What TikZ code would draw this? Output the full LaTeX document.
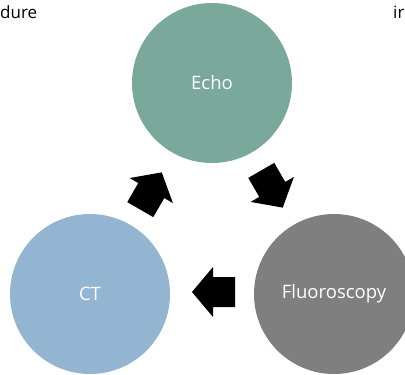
\documentclass[tikz,border=0pt]{standalone}
\usepackage{fontspec}
\setmainfont{Open Sans}
\definecolor{echoc}{RGB}{122,168,154}
\definecolor{ctc}{RGB}{148,181,210}
\definecolor{fluc}{RGB}{127,127,127}
\begin{document}
\begin{tikzpicture}[x=1pt,y=-1pt,
  stage/.style={circle,minimum size=160pt,inner sep=0pt,draw=none,text=white,font=\fontsize{18.5}{22}\selectfont},
  cyclearrow/.pic={\fill[black] (21.5,0) -- (0.5,25) -- (0.5,15) -- (-21.5,15) -- (-21.5,-15) -- (0.5,-15) -- (0.5,-25) -- cycle;},
  edgetext/.style={inner sep=0pt,font=\fontsize{17}{20}\selectfont,text=black}]
\useasboundingbox (0,0) rectangle (405,375);
\node[stage,fill=echoc] (echo) at (212,83) {Echo};
\node[stage,fill=ctc] (ct) at (90,294) {CT};
\node[stage,fill=fluc] (fluoro) at (334,294) {Fluoroscopy};
\pic[rotate=60] (a1) at (151,191) {cyclearrow};
\pic[rotate=-60] (a2) at (272,189) {cyclearrow};
\pic[rotate=180] (a3) at (213.5,292) {cyclearrow};
\node[edgetext,anchor=base west] (t1) at (0,18) {dure};
\node[edgetext,anchor=base west] (t2) at (393,18) {ir};
\end{tikzpicture}
\end{document}
